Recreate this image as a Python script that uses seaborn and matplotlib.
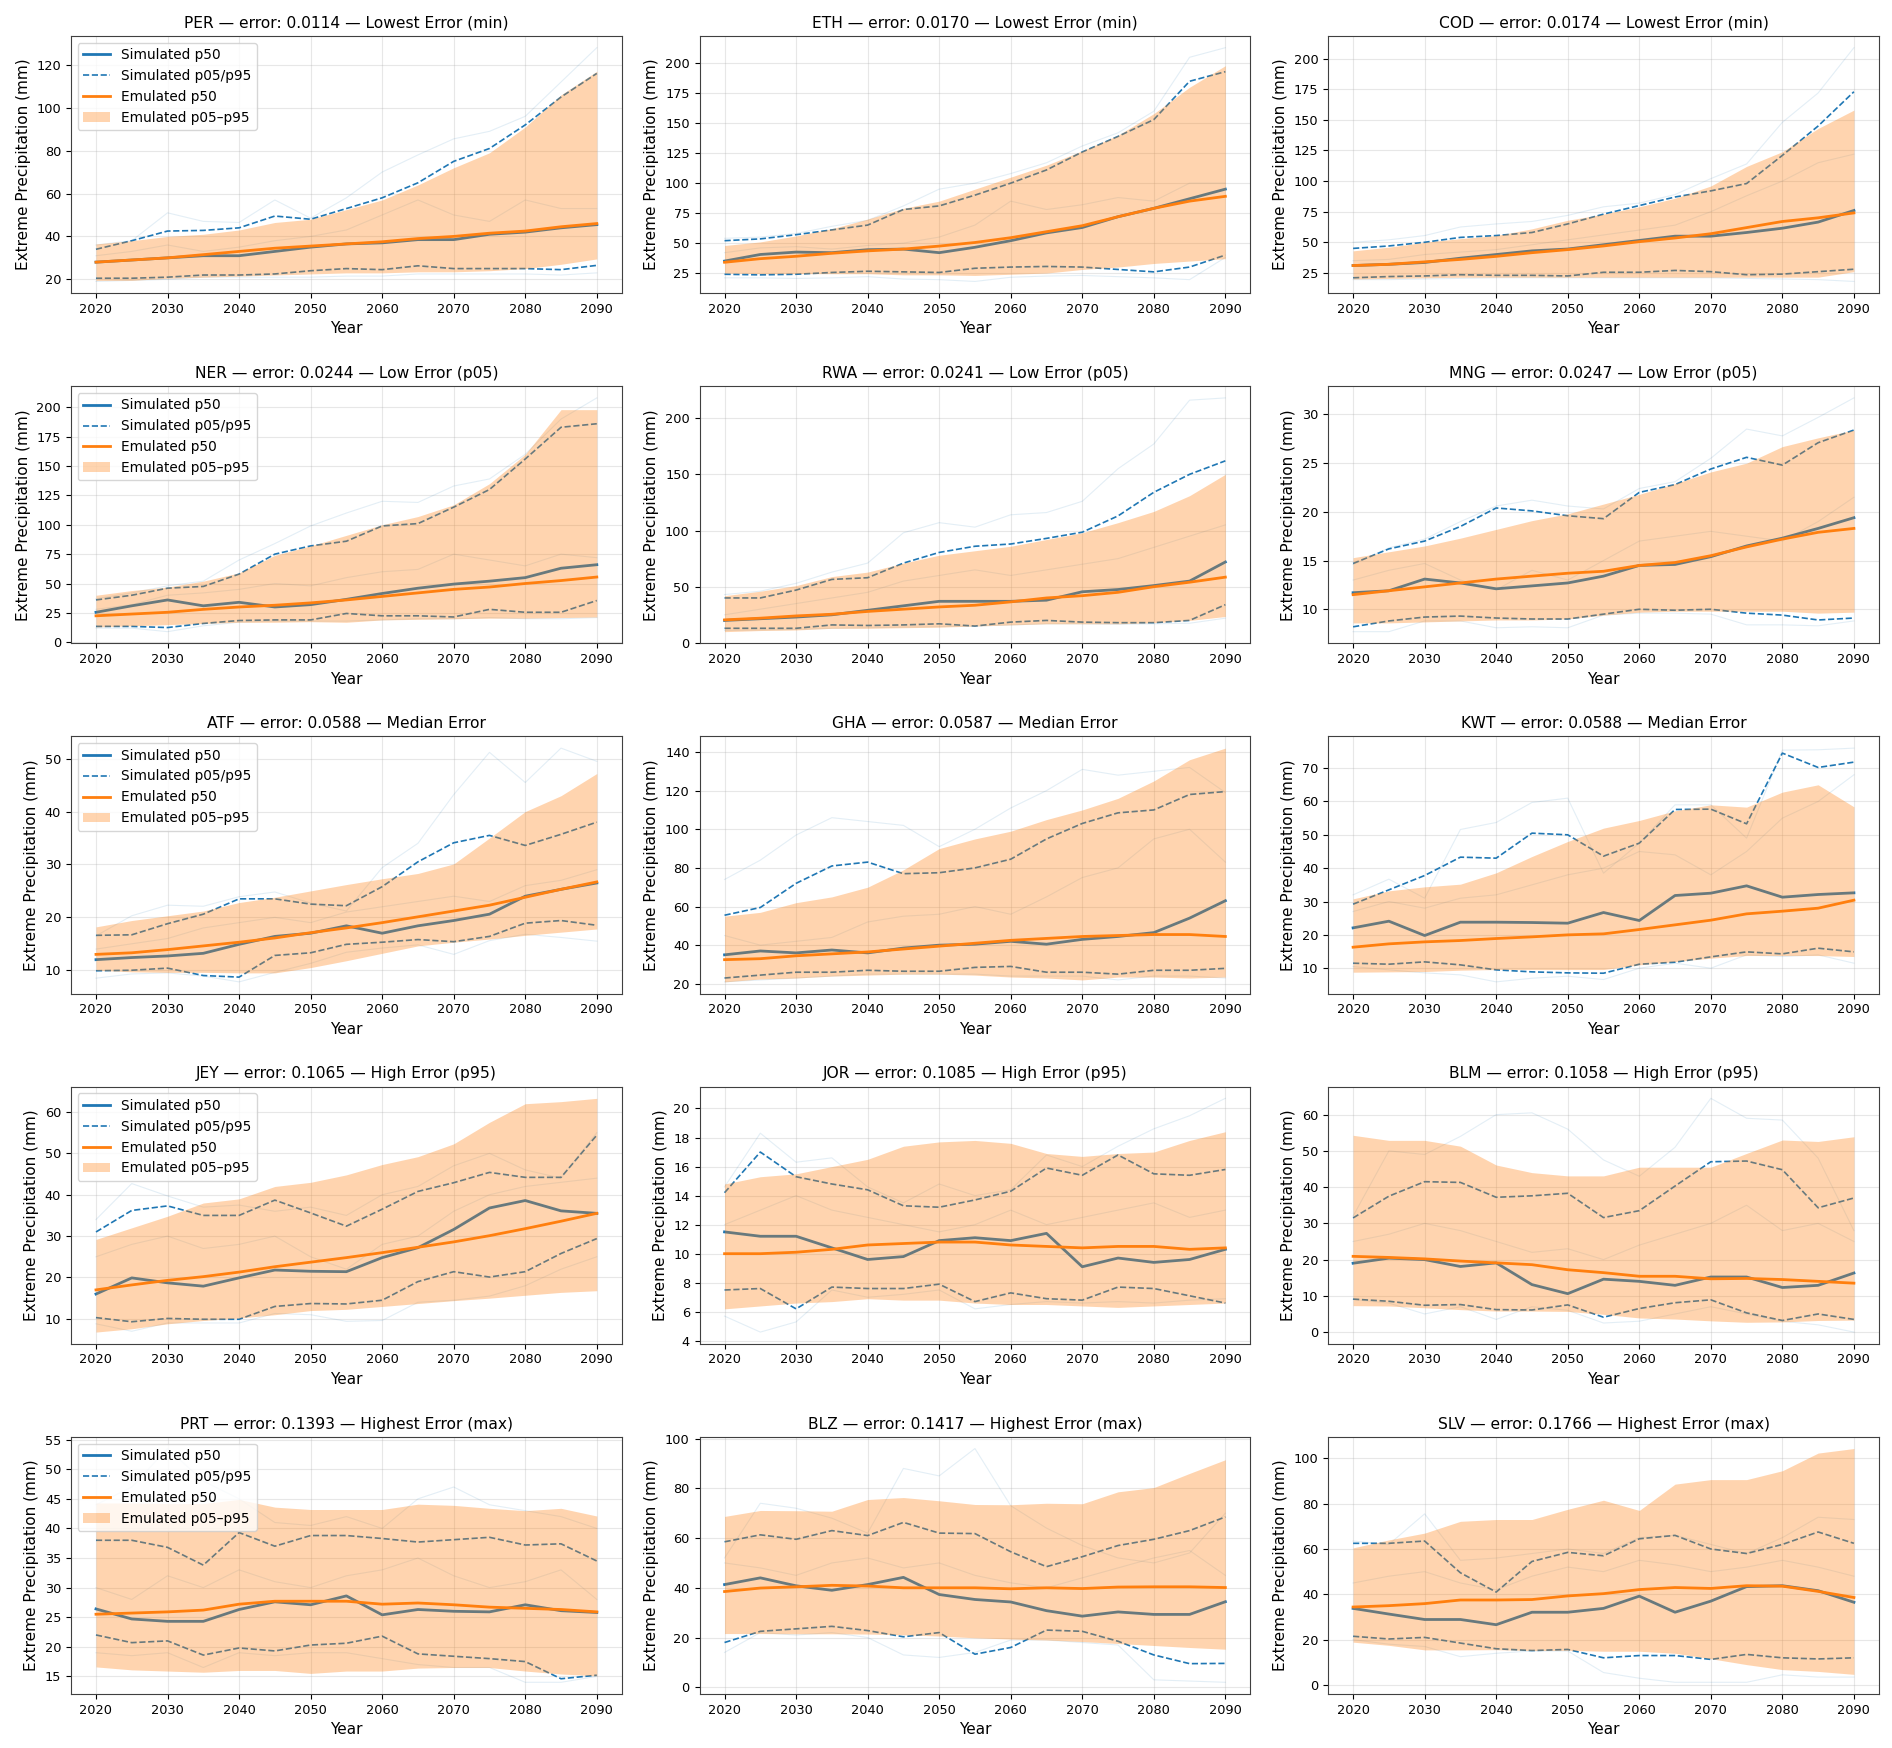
import matplotlib
matplotlib.use("Agg")
import pandas as pd
import seaborn as sns
import matplotlib.pyplot as plt

# years on the x axis
years = list(range(2020, 2095, 5))

countries = ["PER", "ETH", "COD", "NER", "RWA", "MNG", "ATF", "GHA", "KWT",
             "JEY", "JOR", "BLM", "PRT", "BLZ", "SLV"]
errors = ["0.0114", "0.0170", "0.0174", "0.0244", "0.0241", "0.0247", "0.0588", "0.0587", "0.0588",
          "0.1065", "0.1085", "0.1058", "0.1393", "0.1417", "0.1766"]
groups = ["Lowest Error (min)"] * 3 + ["Low Error (p05)"] * 3 + ["Median Error"] * 3 + \
         ["High Error (p95)"] * 3 + ["Highest Error (max)"] * 3

# simulated percentiles (ensemble)
sim_p50 = [
    [28, 29, 30, 31, 31, 33, 35, 36.5, 37, 38.5, 38.5, 41, 42, 44, 45.5],
    [35, 40.5, 42.5, 42, 44.5, 45, 42, 46.5, 52, 58.5, 63, 72, 79, 87, 95],
    [31, 32, 33.5, 37, 40, 43, 44.5, 48, 51.5, 55, 55, 58, 61.5, 66.5, 76],
    [25.5, 31, 36, 31, 34, 30, 32, 36.5, 41.5, 46, 49.5, 52, 55, 63, 66],
    [20, 21.5, 23, 25, 29, 33, 37, 37, 37, 38, 45.5, 47.5, 51, 55, 72],
    [11.7, 11.9, 13.1, 12.7, 12.1, 12.4, 12.7, 13.4, 14.5, 14.6, 15.4, 16.5, 17.3, 18.3, 19.4],
    [12.0, 12.4, 12.7, 13.2, 14.9, 16.4, 17.0, 18.4, 17.0, 18.4, 19.4, 20.6, 24.0, 25.3, 26.5],
    [35, 37, 36, 37.5, 36, 38.5, 40, 40.5, 42, 40.5, 43, 44.5, 46.5, 54, 63],
    [22.1, 24.1, 19.8, 23.8, 23.8, 23.7, 23.5, 26.7, 24.3, 31.8, 32.5, 34.7, 31.3, 32.1, 32.6],
    [16.0, 19.9, 18.7, 17.9, 19.9, 21.8, 21.5, 21.4, 24.8, 27.2, 31.6, 36.8, 38.6, 36.1, 35.5],
    [11.5, 11.2, 11.2, 10.4, 9.6, 9.8, 10.9, 11.1, 10.9, 11.4, 9.1, 9.7, 9.4, 9.6, 10.3],
    [19.0, 20.4, 20.0, 18.1, 19.1, 13.1, 10.6, 14.6, 14.0, 12.9, 15.2, 15.2, 12.3, 12.9, 16.3],
    [26.4, 24.7, 24.3, 24.3, 26.3, 27.6, 27.1, 28.6, 25.4, 26.3, 26.0, 25.9, 27.1, 26.1, 25.8],
    [41.3, 44.0, 40.8, 39.0, 41.3, 44.2, 37.3, 35.3, 34.3, 30.8, 28.6, 30.3, 29.3, 29.3, 34.4],
    [33.8, 31.3, 28.9, 28.9, 26.6, 32.1, 32.1, 33.8, 39.2, 32.1, 37.0, 43.4, 43.8, 41.6, 36.5],
]
sim_p05 = [
    [20.5, 20.5, 21, 22, 22, 22.5, 24, 25, 24.5, 26.3, 25, 25, 25, 24.5, 26.5],
    [24, 23.5, 24, 25.5, 26.5, 26, 25.5, 29, 30, 30.5, 30, 28, 26, 30, 40],
    [21, 22, 22.5, 23.5, 23, 23, 22.5, 25.5, 25.5, 27, 26, 23.5, 24, 26, 28],
    [13.5, 13.5, 12.5, 16, 18.5, 19, 19, 24.5, 22.5, 22.5, 21.5, 28, 25.5, 25.5, 35.5],
    [13, 13, 13, 16, 15.5, 16, 17, 15, 18.5, 20, 18.5, 18, 18, 20, 34],
    [8.2, 8.8, 9.2, 9.3, 9.1, 9.0, 9.0, 9.5, 10.0, 9.9, 10.0, 9.6, 9.4, 8.9, 9.1],
    [9.9, 10.0, 10.4, 9.0, 8.7, 12.8, 13.3, 14.9, 15.3, 15.8, 15.4, 16.4, 18.9, 19.4, 18.5],
    [23, 24.5, 26, 26, 27, 26.5, 26.5, 28.5, 29, 26, 26, 25, 27, 27, 28],
    [11.5, 11.2, 11.9, 11.0, 9.5, 8.9, 8.6, 8.5, 11.2, 11.8, 13.4, 14.9, 14.3, 16.0, 14.9],
    [10.3, 9.3, 10.1, 9.9, 9.9, 13.0, 13.7, 13.6, 14.5, 19.0, 21.4, 20.1, 21.4, 25.8, 29.4],
    [7.5, 7.6, 6.2, 7.7, 7.6, 7.6, 7.9, 6.7, 7.3, 6.9, 6.8, 7.7, 7.6, 7.1, 6.6],
    [9.1, 8.5, 7.4, 7.6, 6.2, 6.1, 7.5, 4.1, 6.5, 8.1, 8.9, 5.3, 3.2, 5.0, 3.5],
    [22.0, 20.7, 21.0, 18.6, 19.8, 19.3, 20.3, 20.6, 21.8, 18.8, 18.4, 18.0, 17.5, 14.6, 15.2],
    [18.0, 22.5, 23.5, 24.5, 22.8, 20.3, 22.0, 13.3, 16.0, 23.0, 22.5, 18.5, 13.0, 9.5, 9.6],
    [21.5, 20.3, 21.0, 18.5, 16.0, 15.2, 15.7, 12.0, 13.0, 13.0, 11.3, 13.5, 12.0, 11.5, 12.0],
]
sim_p95 = [
    [34, 38, 42.5, 42.8, 44, 49.5, 48, 53, 58, 65, 75, 81, 92, 105, 116],
    [52, 53.5, 57, 61, 65, 78, 81, 90, 100, 111, 126, 139, 153, 185, 193],
    [45, 47, 50, 54, 55.5, 58, 65, 73, 80, 87, 92, 98, 121, 145, 173],
    [36, 40, 46, 47.5, 58, 75, 82, 86, 99, 101, 115, 130, 156, 183, 186],
    [40, 40, 47, 56.5, 58, 71, 80.5, 86, 88, 93, 98.5, 113, 134, 150, 162],
    [14.7, 16.2, 17.0, 18.5, 20.4, 20.1, 19.6, 19.3, 22.0, 22.8, 24.4, 25.6, 24.8, 27.1, 28.4],
    [16.6, 16.7, 18.8, 20.6, 23.5, 23.5, 22.5, 22.2, 25.8, 30.5, 34.1, 35.5, 33.6, 35.7, 38.0],
    [55.5, 59.5, 72, 81, 83, 77, 77.5, 80, 84.5, 95, 103, 108.5, 110, 118, 119.5],
    [29.2, 33.5, 37.8, 43.3, 43.0, 50.5, 50.0, 43.6, 47.5, 57.6, 57.7, 53.3, 74.5, 70.2, 71.8],
    [31.0, 36.2, 37.3, 35.0, 35.0, 38.7, 35.6, 32.4, 36.5, 40.8, 42.9, 45.4, 44.2, 44.2, 54.4],
    [14.2, 17.0, 15.3, 14.8, 14.4, 13.3, 13.2, 13.7, 14.3, 15.9, 15.4, 16.8, 15.5, 15.4, 15.8],
    [31.5, 37.5, 41.5, 41.3, 37.2, 37.6, 38.3, 31.6, 33.5, 40.3, 47.0, 47.2, 44.8, 34.3, 37.0],
    [38.0, 38.0, 36.8, 33.8, 39.3, 37.0, 38.8, 38.8, 38.3, 37.7, 38.1, 38.5, 37.2, 37.4, 34.5],
    [58.5, 61.3, 59.5, 63.0, 61.0, 66.3, 62.0, 61.8, 54.5, 48.5, 52.5, 57.0, 59.5, 63.0, 68.5],
    [62.5, 62.5, 63.5, 49.5, 41.0, 54.5, 58.5, 57.0, 64.5, 66.0, 60.0, 58.0, 62.0, 67.5, 62.5],
]

# emulated percentiles
emu_p50 = [
    [28, 29, 30, 31.5, 33, 34.5, 35.5, 36.5, 37.5, 39, 40, 41.5, 42.5, 44.5, 46],
    [34, 37, 39, 41.5, 43.5, 45, 47.5, 50.5, 54.5, 59.5, 64.5, 72, 79, 85, 89],
    [31, 32, 34, 36, 38.5, 41.5, 44, 47, 50.5, 53.5, 57, 62, 67, 70, 74],
    [22.5, 24, 25.5, 28, 30, 31.5, 33.5, 36, 39, 42, 45, 47, 50, 52.5, 55.5],
    [20.5, 22, 24, 25.5, 28, 30, 32, 33.5, 36.5, 40, 42, 45, 50, 54, 58.5],
    [11.5, 11.9, 12.3, 12.7, 13.1, 13.4, 13.7, 13.9, 14.5, 14.8, 15.5, 16.4, 17.2, 17.9, 18.3],
    [13.0, 13.3, 13.9, 14.6, 15.3, 16.1, 17.1, 18.0, 19.0, 20.1, 21.2, 22.3, 23.8, 25.3, 26.7],
    [32.5, 33, 34.5, 35.5, 36.5, 38, 39.5, 41, 42.5, 43.5, 44.5, 45, 45.5, 45.5, 44.5],
    [16.3, 17.3, 17.9, 18.3, 18.9, 19.4, 20.0, 20.3, 21.6, 23.0, 24.4, 26.3, 27.1, 28.0, 30.4],
    [17.0, 18.2, 19.3, 20.2, 21.3, 22.6, 23.7, 24.8, 26.0, 27.3, 28.6, 30.1, 31.8, 33.6, 35.5],
    [10.0, 10.0, 10.1, 10.3, 10.6, 10.7, 10.8, 10.8, 10.6, 10.5, 10.4, 10.5, 10.5, 10.3, 10.4],
    [20.9, 20.6, 20.2, 19.6, 19.1, 18.6, 17.2, 16.4, 15.4, 15.4, 14.7, 14.8, 14.5, 14.0, 13.5],
    [25.5, 25.7, 25.9, 26.2, 27.2, 27.7, 27.7, 27.7, 27.2, 27.4, 27.1, 26.7, 26.5, 26.3, 25.9],
    [38.5, 39.9, 40.4, 41.0, 40.7, 40.0, 40.0, 40.0, 39.6, 40.0, 39.7, 40.3, 40.4, 40.4, 40.1],
    [34.4, 35.0, 35.9, 37.5, 37.5, 37.7, 39.3, 40.3, 42.1, 43.0, 42.6, 43.8, 43.6, 41.3, 38.6],
]
emu_p05 = [
    [19.5, 19.5, 20.5, 21, 21.5, 22, 22.5, 23, 23, 23.5, 23.5, 24, 25, 27, 29.5],
    [25, 24.5, 24.5, 24.5, 24.5, 23.5, 23.5, 23, 24, 25, 28, 30, 33, 35, 37],
    [20, 20.5, 21, 21.5, 21.5, 21.5, 21.5, 21.5, 21.5, 21.5, 21.5, 21.5, 21.5, 21.5, 26],
    [13, 14, 15, 16, 17, 17, 17.5, 17, 19, 19.5, 20, 20.5, 20.5, 21, 21.5],
    [10, 11, 11.5, 13, 13, 13.5, 14, 15, 16, 17, 17, 17, 18, 20, 23.5],
    [8.6, 8.6, 8.7, 8.8, 8.9, 8.9, 9.0, 9.4, 9.7, 9.8, 9.8, 9.8, 9.8, 9.6, 9.7],
    [10.0, 9.7, 9.6, 9.6, 9.5, 9.5, 10.5, 11.8, 13.2, 14.6, 15.3, 15.9, 16.6, 17.2, 17.8],
    [21, 22.5, 23, 24, 24.5, 25, 25, 24.5, 23.5, 23, 22, 23.5, 23.5, 23, 23.5],
    [8.8, 8.9, 9.0, 9.4, 9.6, 9.6, 9.6, 9.6, 11.0, 12.0, 13.0, 13.8, 13.8, 13.8, 13.5],
    [6.8, 7.6, 8.8, 9.6, 10.2, 11.0, 12.0, 12.3, 13.0, 13.7, 14.4, 15.0, 15.7, 16.4, 16.8],
    [6.2, 6.4, 6.6, 6.7, 6.9, 6.8, 6.8, 6.6, 6.5, 6.5, 6.4, 6.3, 6.4, 6.5, 6.6],
    [7.3, 7.2, 6.7, 6.2, 5.8, 5.8, 5.7, 4.9, 3.9, 3.6, 3.1, 2.7, 2.8, 3.2, 3.3],
    [16.6, 16.1, 15.9, 15.7, 16.0, 16.0, 15.5, 15.9, 15.9, 16.4, 16.5, 16.5, 15.9, 15.4, 15.1],
    [21.6, 21.6, 21.5, 21.5, 21.4, 21.1, 20.6, 19.9, 19.4, 19.0, 18.4, 17.6, 16.8, 16.0, 15.3],
    [18.9, 17.5, 15.5, 15.5, 15.6, 15.2, 15.3, 14.9, 14.9, 14.0, 11.6, 9.0, 6.8, 6.0, 4.7],
]
emu_p95 = [
    [36.5, 38, 40, 41, 43, 46.5, 48, 52.5, 57, 64, 72, 79, 91, 106, 117],
    [48, 51, 56, 62, 70, 79, 85, 95, 105, 115, 127, 140, 158, 180, 198],
    [43, 46, 50, 53, 55.5, 61, 68, 73, 79, 86, 96, 112, 124, 143, 158],
    [40, 44, 47, 52, 59, 74, 82, 91, 100, 107, 117, 135, 160, 198, 198],
    [42, 46, 51, 59, 63, 71, 78, 82, 86, 92, 98, 107, 117, 131, 150],
    [15.3, 15.9, 16.5, 17.3, 18.2, 19.1, 19.8, 20.8, 21.8, 22.9, 24.1, 25.0, 26.7, 27.6, 28.4],
    [18.2, 19.4, 20.3, 21.2, 22.8, 23.8, 25.0, 26.2, 27.3, 28.3, 30.1, 35.0, 40.0, 43.0, 47.2],
    [55, 57, 62, 65, 70, 79, 90, 95, 99, 105, 110, 116, 125, 136, 142],
    [30.8, 33.2, 34.4, 35.2, 38.6, 43.5, 48.0, 52.0, 54.3, 57.2, 59.0, 58.3, 62.8, 65.0, 58.4],
    [29.2, 32.0, 34.8, 38.0, 39.0, 42.0, 43.0, 44.8, 47.3, 49.2, 52.3, 57.5, 62.0, 62.5, 63.3],
    [14.8, 15.3, 15.5, 16.0, 16.5, 17.4, 17.7, 17.8, 17.6, 16.9, 16.7, 16.9, 17.0, 17.8, 18.4],
    [54.3, 52.9, 52.9, 51.3, 46.1, 44.0, 43.1, 43.1, 45.5, 45.5, 45.5, 49.3, 53.0, 52.6, 53.9],
    [44.3, 44.3, 44.2, 44.2, 44.9, 43.6, 43.2, 43.2, 43.2, 44.1, 43.9, 43.4, 43.0, 43.4, 42.1],
    [68.7, 71.1, 71.0, 70.8, 75.5, 76.3, 75.0, 73.5, 73.4, 74.0, 73.8, 78.6, 80.3, 86.0, 91.5],
    [60.5, 64.0, 67.0, 72.2, 73.0, 73.0, 77.5, 81.5, 77.0, 88.6, 90.6, 90.6, 94.5, 102.3, 104.3],
]

# a few of the individual ensemble members (faint lines)
member_hi = [
    [36, 38, 51, 47, 46.5, 57, 48.5, 58, 70, 78, 85.5, 89, 96, 112, 128],
    [54, 55, 58, 64, 69, 81, 95, 100, 108, 117, 131, 142, 160, 205, 213],
    [50, 52, 55.5, 62.5, 65, 67, 72, 79, 82, 89, 102, 114, 148, 172, 209],
    [37, 42, 48, 52, 70, 84, 99, 110, 120, 119, 133, 139, 160, 190, 208],
    [43, 46, 53, 63, 71, 98, 107, 103, 114, 116, 126, 155, 177, 216, 218],
    [14.6, 16.3, 17.2, 19.0, 20.6, 21.2, 20.6, 20.3, 22.4, 23.1, 25.5, 28.5, 27.8, 29.7, 31.7],
    [16.5, 20.3, 22.3, 22.1, 23.9, 24.8, 22.7, 21.2, 29.4, 34.0, 43.2, 51.2, 45.5, 52.0, 49.5],
    [74, 84, 97, 106, 104, 102, 91, 100, 111, 120, 131, 128, 130, 132, 119],
    [32, 36.7, 31, 51.6, 53.7, 59.7, 61, 38.5, 47.5, 59, 59, 49, 75.4, 75.5, 76],
    [34, 42.7, 39.7, 37, 37.5, 36, 37, 35, 40, 42, 47, 50, 46, 44, 55],
    [14.6, 18.3, 16.3, 16.6, 14.6, 13.5, 14.8, 14.0, 14.4, 16.8, 16.0, 17.4, 18.6, 19.5, 20.7],
    [32, 50, 49, 54, 60, 60.5, 56, 47.5, 43, 51, 64.5, 59, 58.5, 48, 28],
    [44, 47, 53.5, 48, 45, 41, 40.5, 42, 40, 45, 47, 44, 43, 42, 40],
    [52, 74, 72, 68, 62, 88, 85, 96, 73, 64, 57, 52, 50, 54, 70],
    [63.5, 62, 75.5, 55, 56, 58, 60, 58, 65, 66, 62, 58, 65, 74, 73],
]
member_mid = [
    [31, 33, 36, 33, 35, 38, 40, 43, 50, 57, 50, 47, 57, 53, 53],
    [42, 46, 47, 45, 48, 50, 55, 65, 85, 78, 82, 88, 85, 100, 100],
    [35, 36, 40, 42, 44, 48, 52, 56, 60, 64, 75, 88, 100, 115, 122],
    [28, 32, 40, 42, 45, 50, 48, 55, 60, 62, 75, 70, 65, 75, 72],
    [25, 30, 35, 40, 45, 55, 60, 65, 60, 65, 70, 75, 85, 95, 105],
    [13, 14, 14.7, 13, 12, 14, 13, 15, 17, 17.5, 18, 17.5, 17, 19, 21.5],
    [14, 15, 16, 18, 19, 20, 19, 21, 22, 23, 24, 23, 26, 27, 29],
    [45, 40, 42, 44, 52, 55, 56, 60, 56, 65, 75, 80, 95, 100, 83],
    [27, 30, 28, 31, 32, 35, 38, 40, 45, 44, 38, 45, 55, 60, 68],
    [25, 28, 30, 27, 28, 30, 25, 22, 28, 30, 36, 40, 42, 43, 44],
    [12, 13, 14, 13, 12.5, 12, 11.5, 12, 13, 12, 12.5, 13, 13.5, 12.5, 13],
    [25, 27, 30, 28, 25, 22, 23, 20, 24, 27, 30, 35, 28, 30, 25],
    [30, 28, 32, 30, 33, 31, 30, 32, 33, 35, 32, 30, 31, 33, 28],
    [50, 48, 45, 50, 52, 48, 50, 45, 42, 40, 44, 48, 52, 55, 45],
    [45, 48, 50, 45, 42, 48, 52, 50, 55, 53, 50, 52, 55, 52, 48],
]
member_lo = [
    [19, 19.5, 20, 21, 21, 21, 21, 21.5, 21.5, 22.5, 22.5, 22.5, 22.5, 22, 23],
    [21, 21, 20.5, 21, 22, 20, 19.5, 18, 21.5, 22.5, 23, 22, 21, 19.5, 38],
    [19.5, 19.5, 20, 20.5, 21, 21, 21, 21, 21, 21, 21, 20.5, 20, 19.5, 18],
    [12, 12, 9, 14, 17, 18, 18, 18, 19, 20, 20, 21, 20, 20, 21],
    [11, 11.5, 12, 13, 13.5, 14, 14.5, 15, 16, 17, 17, 16.5, 17, 17.5, 22],
    [7.7, 7.7, 8.8, 8.8, 8.1, 8.2, 8.1, 9.4, 9.6, 9.6, 9.5, 8.4, 8.4, 8.3, 8.8],
    [8.5, 9.3, 9.5, 8.9, 7.8, 9.6, 11.3, 13.4, 14.2, 14.8, 13.0, 15.6, 16.8, 16.2, 15.5],
    [21, 22, 23, 24, 25, 25, 25, 25, 24, 24, 24, 22, 24, 24, 23],
    [10.5, 9.5, 8.6, 8.0, 5.9, 7.0, 7.6, 6.6, 10.0, 11.5, 10.0, 14.0, 13.5, 14.0, 11.5],
    [8.8, 7.0, 9.0, 9.0, 9.0, 11.3, 11.0, 9.4, 9.6, 14.0, 14.5, 15.5, 18, 22, 25],
    [5.7, 4.6, 5.3, 7.5, 7.0, 7.2, 7.5, 6.2, 6.5, 6.7, 6.6, 6.7, 6.6, 6.8, 6.9],
    [9, 8, 5, 7, 3.5, 7, 6, 2.5, 3, 5, 7, 5, 3, 2, 0.0],
    [19, 18.5, 19, 16.5, 19, 18.5, 19, 19, 18, 17, 16.5, 16.5, 14, 14, 15],
    [14, 22, 21, 22, 20, 13, 12, 14, 19, 19, 18, 17, 3, 2.5, 2],
    [20, 18, 17, 12.5, 14, 15, 15, 5.5, 3.0, 1.2, 1.2, 1.2, 4.5, 3.5, 3.5],
]

BLUE = "#1f77b4"
ORANGE = "#ff7f0e"

plt.rcParams.update({
    "axes.titlesize": 11.2,
    "axes.labelsize": 11,
    "xtick.labelsize": 9.3,
    "ytick.labelsize": 9.3,
    "legend.fontsize": 9.8,
})

fig, axes = plt.subplots(5, 3, figsize=(18.92, 17.48), dpi=100)
fig.subplots_adjust(left=0.0375, right=0.9931, top=0.9794, bottom=0.0309,
                    wspace=0.141, hspace=0.362)

for i, ax in enumerate(axes.flat):
    df = pd.DataFrame({
        "Year": years,
        "sim50": sim_p50[i], "sim05": sim_p05[i], "sim95": sim_p95[i],
        "emu50": emu_p50[i], "emu05": emu_p05[i], "emu95": emu_p95[i],
        "m_hi": member_hi[i], "m_mid": member_mid[i], "m_lo": member_lo[i],
    })

    # faint ensemble members
    for col in ["m_hi", "m_mid", "m_lo"]:
        sns.lineplot(data=df, x="Year", y=col, ax=ax, color=BLUE, alpha=0.12, lw=0.8, legend=False)

    sns.lineplot(data=df, x="Year", y="sim50", ax=ax, color=BLUE, lw=2, label="Simulated p50")
    sns.lineplot(data=df, x="Year", y="sim05", ax=ax, color=BLUE, lw=1.2, ls="--", label="Simulated p05/p95")
    sns.lineplot(data=df, x="Year", y="sim95", ax=ax, color=BLUE, lw=1.2, ls="--")
    sns.lineplot(data=df, x="Year", y="emu50", ax=ax, color=ORANGE, lw=2, label="Emulated p50", zorder=3)
    ax.fill_between(df["Year"], df["emu05"], df["emu95"], color=ORANGE, alpha=0.33, lw=0,
                    zorder=2, label="Emulated p05–p95")

    ax.set_title(f"{countries[i]} — error: {errors[i]} — {groups[i]}")
    ax.set_xlabel("Year")
    ax.set_ylabel("Extreme Precipitation (mm)")
    ax.grid(True, alpha=0.3)
    for sp in ax.spines.values():
        sp.set_color("0.25")

    if i % 3 == 0:
        ax.legend(loc="upper left")
    else:
        ax.get_legend().remove()

fig.savefig("out.png", dpi=100)
